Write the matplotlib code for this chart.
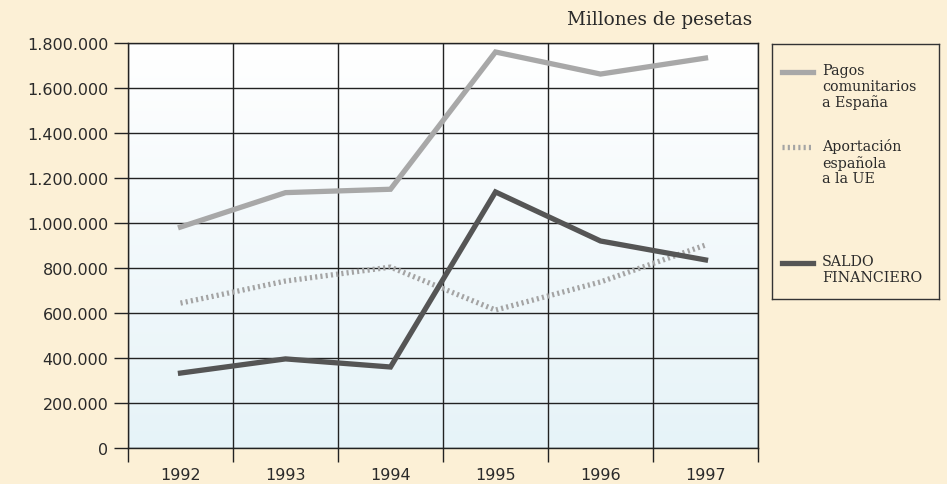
import numpy as np
import matplotlib
matplotlib.use('Agg')
import matplotlib.pyplot as plt
from matplotlib.ticker import FuncFormatter, FixedLocator

years = ['1992', '1993', '1994', '1995', '1996', '1997']
pagos = [982000, 1135000, 1150000, 1760000, 1662000, 1733000]
aportacion = [644000, 742000, 804000, 613000, 738000, 902000]
saldo = [333000, 396000, 360000, 1138000, 920000, 836000]

labels = ['Pagos\ncomunitarios\na España', 'Aportación\nespañola\na la UE', 'SALDO\nFINANCIERO']
colors = ['#a8a8a8', '#a4a4a4', '#555555']
styles = ['-', (0, (0.4, 0.6)), '-']

BG = '#fcf0d6'

fig = plt.figure(figsize=(9.47, 4.85), dpi=100, facecolor=BG)
ax = fig.add_axes([128 / 947, 1 - 449 / 485, 630 / 947, 405 / 485])
ax.set_facecolor('white')

# gradiente blanco (arriba) -> azul claro (abajo)
grad = np.linspace(0, 1, 256).reshape(-1, 1)
cmap = matplotlib.colors.LinearSegmentedColormap.from_list('g', ['#ffffff', '#e6f3f8'])
ax.imshow(grad, aspect='auto', cmap=cmap, extent=[-0.5, 5.5, 0, 1800000], origin='upper', zorder=0)

x = np.arange(len(years))
for vals, c, ls in zip([pagos, aportacion, saldo], colors, styles):
    ax.plot(x, vals, color=c, lw=3.8, linestyle=ls, solid_joinstyle='miter', zorder=3)

ax.set_xlim(-0.5, 5.5)
ax.set_ylim(0, 1800000)

ax.set_yticks(np.arange(0, 1800001, 200000))
ax.yaxis.set_major_formatter(FuncFormatter(lambda v, p: f'{int(v):,}'.replace(',', '.')))
ax.set_xticks(x)
ax.set_xticklabels(years)
ax.xaxis.set_minor_locator(FixedLocator(np.arange(-0.5, 5.6, 1)))

ax.tick_params(axis='y', length=10, width=1, color='#222222', pad=4, labelsize=11.5, labelcolor='#2a2a2a')
ax.tick_params(axis='x', which='major', length=0, pad=13.5, labelsize=11.5, labelcolor='#2a2a2a')
ax.tick_params(axis='x', which='minor', length=10, width=1, color='#222222')

ax.grid(True, which='major', axis='y', color='#222222', lw=1, zorder=1)
ax.grid(True, which='minor', axis='x', color='#222222', lw=1, zorder=1)
for s in ax.spines.values():
    s.set_color('#222222')
    s.set_linewidth(1)
ax.set_axisbelow(True)

fig.text(752 / 947, 1 - 20 / 485, 'Millones de pesetas', ha='right', va='center',
         fontsize=13.3, family='DejaVu Serif', color='#2a2a2a')

# leyenda
lax = fig.add_axes([772 / 947, 1 - 300 / 485, 167 / 947, 255 / 485])
lax.set_facecolor(BG)
lax.set_xlim(0, 167)
lax.set_ylim(255, 0)
lax.set_xticks([])
lax.set_yticks([])
for s in lax.spines.values():
    s.set_color('#333333')
    s.set_linewidth(1)
ys = [28, 103, 219]
for lab, c, ls, yy in zip(labels, colors, styles, ys):
    lax.plot([10, 41], [yy, yy], color=c, lw=3.8, linestyle=ls)
    lax.text(50, yy - 9, lab, ha='left', va='top', fontsize=10.3,
             family='DejaVu Serif', color='#2a2a2a', linespacing=1.15)

fig.savefig('out.png', dpi=100, facecolor=BG)
